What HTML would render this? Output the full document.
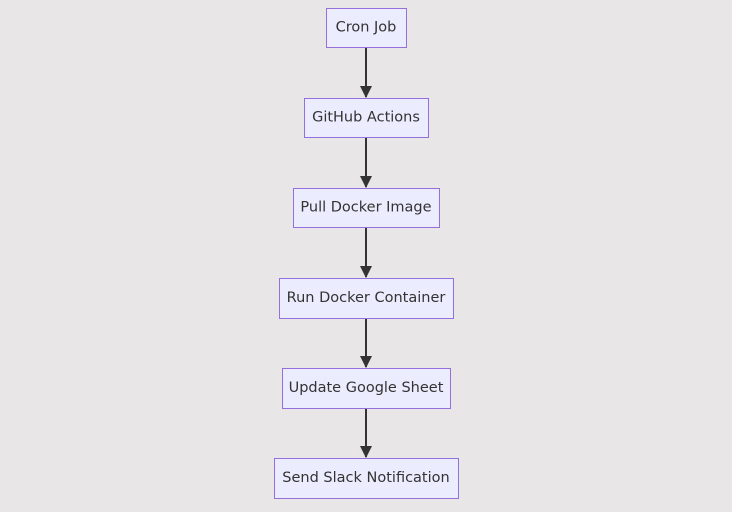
<!DOCTYPE html>
<html><head><style>
body{margin:0;width:732px;height:507px;background:#e8e6e6;overflow:hidden}
</style></head><body>
<svg width="732" height="507" xmlns="http://www.w3.org/2000/svg" style="font-family:'DejaVu Sans','Liberation Sans',sans-serif;font-size:14.5px">
<defs><marker id="a" markerWidth="12" markerHeight="12" refX="11" refY="6" orient="auto" markerUnits="userSpaceOnUse"><path d="M0,0L12,6L0,12z" fill="#333"/></marker></defs>
<g stroke="#333" stroke-width="2" marker-end="url(#a)">
<line x1="366" y1="47" x2="366" y2="97"/>
<line x1="366" y1="137" x2="366" y2="187"/>
<line x1="366" y1="227" x2="366" y2="277"/>
<line x1="366" y1="318" x2="366" y2="367"/>
<line x1="366" y1="408" x2="366" y2="457"/>
</g>
<g fill="#ececff" stroke="#9370db" stroke-width="1">
<rect x="326.5" y="8.5" width="80" height="39"/>
<rect x="304.5" y="98.5" width="124" height="39"/>
<rect x="293.5" y="188.5" width="146" height="39"/>
<rect x="279.5" y="278.5" width="174" height="40"/>
<rect x="282.5" y="368.5" width="168" height="40"/>
<rect x="274.5" y="458.5" width="184" height="40"/>
</g>
<g fill="#333" text-anchor="middle">
<text x="366" y="31.5">Cron Job</text>
<text x="366" y="121.5">GitHub Actions</text>
<text x="366" y="211.5">Pull Docker Image</text>
<text x="366" y="302">Run Docker Container</text>
<text x="366" y="392">Update Google Sheet</text>
<text x="366" y="482">Send Slack Notification</text>
</g>
</svg>
</body></html>
